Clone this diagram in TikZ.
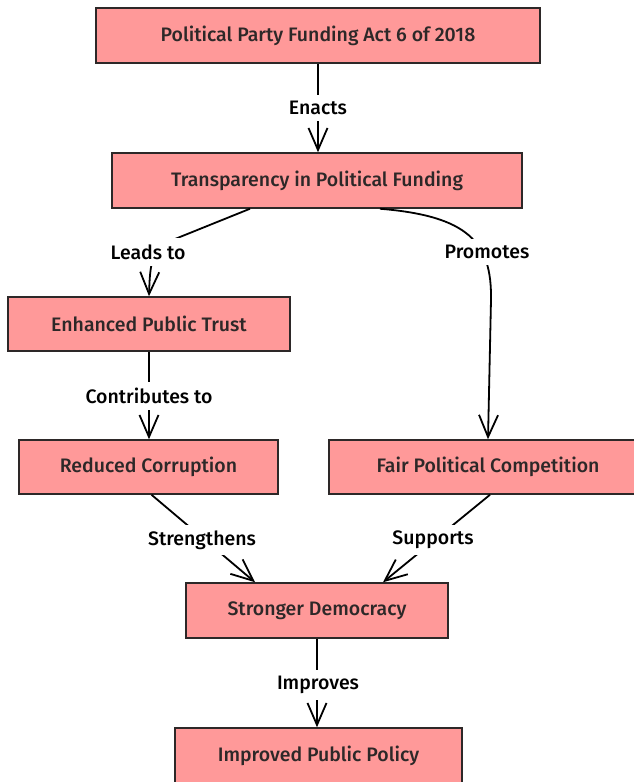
\documentclass[tikz,border=0pt]{standalone}
\usepackage{fontspec}
\setsansfont{Fira Sans}[UprightFont={* Medium},BoldFont={* SemiBold}]
\usepackage{xcolor}
\usetikzlibrary{arrows.meta}

\definecolor{boxpink}{RGB}{255,153,153}
\definecolor{ink}{RGB}{45,40,40}

\tikzset{
  box/.style={draw=ink,line width=1.5pt,fill=boxpink,text=ink,inner sep=0pt,
              font=\sffamily\fontsize{19.5}{22}\selectfont},
  lbl/.style={fill=white,inner sep=6pt,text=black,
              font=\sffamily\fontsize{19.5}{22}\selectfont},
  link/.style={draw=black,line width=1.8pt,->}
}

\begin{document}
\begin{tikzpicture}[x=1pt,y=-1pt]
\useasboundingbox (0,0) rectangle (634,782);
\begin{scope}[>={Straight Barb[length=22pt,width=19pt]}]
    \node[box,minimum width=444pt,minimum height=55pt] (act)    at (318,35.5) {Political Party Funding Act 6 of 2018};
    \node[box,minimum width=410pt,minimum height=55pt] (trans)  at (317,180.5) {Transparency in Political Funding};
    \node[box,minimum width=282pt,minimum height=54pt] (trust)  at (149,324) {Enhanced Public Trust};
    \node[box,minimum width=259pt,minimum height=54pt] (corr)   at (148.5,467) {Reduced Corruption};
    \node[box,minimum width=318pt,minimum height=54pt] (fair)   at (488,467) {Fair Political Competition};
    \node[box,minimum width=262pt,minimum height=55pt] (demo)   at (317,610.5) {Stronger Democracy};
    \node[box,minimum width=287pt,minimum height=55pt] (policy) at (318.5,755.5) {Improved Public Policy};

    % connectors
    \draw[link] (act.south) -- (act.south |- trans.north);
    \draw[link] ([xshift=-67pt]trans.south) -- (170,241) .. controls (152,250) and (150,262) .. (trust.north);
    \draw[link] ([xshift=63pt]trans.south) .. controls (468,216) and (492,242) .. (491,300) -- (fair.north);
    \draw[link] (trust.south) -- (trust.south |- corr.north);
    \draw[link] ([xshift=3pt]corr.south) -- ([xshift=-62pt]demo.north);
    \draw[link] ([xshift=2pt]fair.south) -- ([xshift=66pt]demo.north);
    \draw[link] (demo.south) -- (demo.south |- policy.north);

    % labels sit on top of the lines
    \node[lbl] (enacts)   at (318,108) {Enacts};
    \node[lbl] (leadsto)  at (148,252) {Leads to};
    \node[lbl] (promotes) at (487,252) {Promotes};
    \node[lbl] (contrib)  at (149,396) {Contributes to};
    \node[lbl] (strength) at (202,540) {Strengthens};
    \node[lbl] (supports) at (433,540) {Supports};
    \node[lbl] (improves) at (318,685) {Improves};
\end{scope}
\end{tikzpicture}
\end{document}
